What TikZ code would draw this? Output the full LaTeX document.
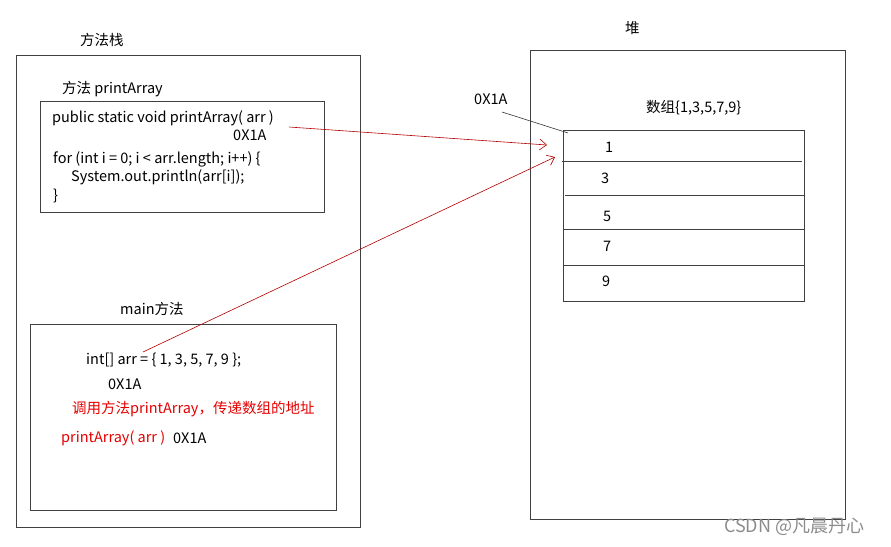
\documentclass[tikz,border=0pt]{standalone}
\usepackage{fontspec}
\setmainfont{Noto Sans CJK SC}
\usetikzlibrary{arrows.meta}

\begin{document}
\begin{tikzpicture}[x=1pt, y=-1pt,
    box/.style={draw=black!75, line width=0.8pt},
    txt/.style={anchor=west, inner sep=0pt, font=\fontsize{14.5}{16}\selectfont},
    redtxt/.style={txt, text=red!90!black},
    ptr/.style={draw=red!70!black, line width=0.6pt, -{Straight Barb[length=7pt,width=11pt]}}]
    \useasboundingbox (0,0) rectangle (891,546);
    % Method stack
    \draw[box] (16,55) rectangle (360,527);
    \node[txt] (stack) at (80,40) {方法栈};
    % printArray frame
    \draw[box] (40,101) rectangle (324,212);
    \node[txt] (pa) at (62,89) {方法 printArray};
    \node[txt] (sig) at (52,118) {public static void printArray( arr )};
    \node[txt] (paddr) at (233,135) {0X1A};
    \node[txt] (loop) at (53,159) {for (int i = 0; i < arr.length; i++) \{};
    \node[txt] (body) at (71,177) {System.out.println(arr[i]);};
    \node[txt] (close) at (53,196) {\}};
    % main frame
    \draw[box] (30,324) rectangle (336,510);
    \node[txt] (mn) at (120,309) {main方法};
    \node[txt] (decl) at (86,360) {int[] arr = \{ 1, 3, 5, 7, 9 \};};
    \node[txt] (maddr) at (108,384) {0X1A};
    \node[redtxt] (note) at (72,409) {调用方法printArray，传递数组的地址};
    \node[redtxt] (call) at (61,438) {printArray( arr )};
    \node[txt] (caddr) at (173,438) {0X1A};
    % Heap
    \draw[box] (530,50) rectangle (845,519);
    \node[txt] (heap) at (625,28) {堆};
    \node[txt] (haddr) at (474,99) {0X1A};
    \node[txt] (arrname) at (646,108) {数组\{1,3,5,7,9\}};
    % Array cells
    \draw[box] (563,130) rectangle (804,301);
    \foreach \y/\l/\r in {161/562/802, 195/565/804, 229/563/804, 265/563/804} {
        \draw[box] (\l,\y) -- (\r,\y);
    }
    \foreach \v/\x/\y [count=\i] in {1/605/147, 3/601/178, 5/603/216, 7/603/246, 9/602/281} {
        \node[txt] (c\i) at (\x,\y) {\v};
    }
    % Address pointers
    \coordinate (hstart) at (502,112);
    \coordinate (acorner) at (568,133);
    \draw[black!80, line width=0.6pt] (hstart) -- (acorner);
    \coordinate (sigend) at (289,127);
    \coordinate (tip1) at (547,145);
    \draw[ptr] (sigend) -- (tip1);
    \coordinate (declend) at (143,352);
    \coordinate (tip2) at (555,157);
    \draw[ptr] (declend) -- (tip2);
    % Watermark
    \node[txt, text=black!45, font=\fontsize{18}{20}\selectfont] (mark) at (724,527) {CSDN @凡晨丹心};
\end{tikzpicture}
\end{document}
